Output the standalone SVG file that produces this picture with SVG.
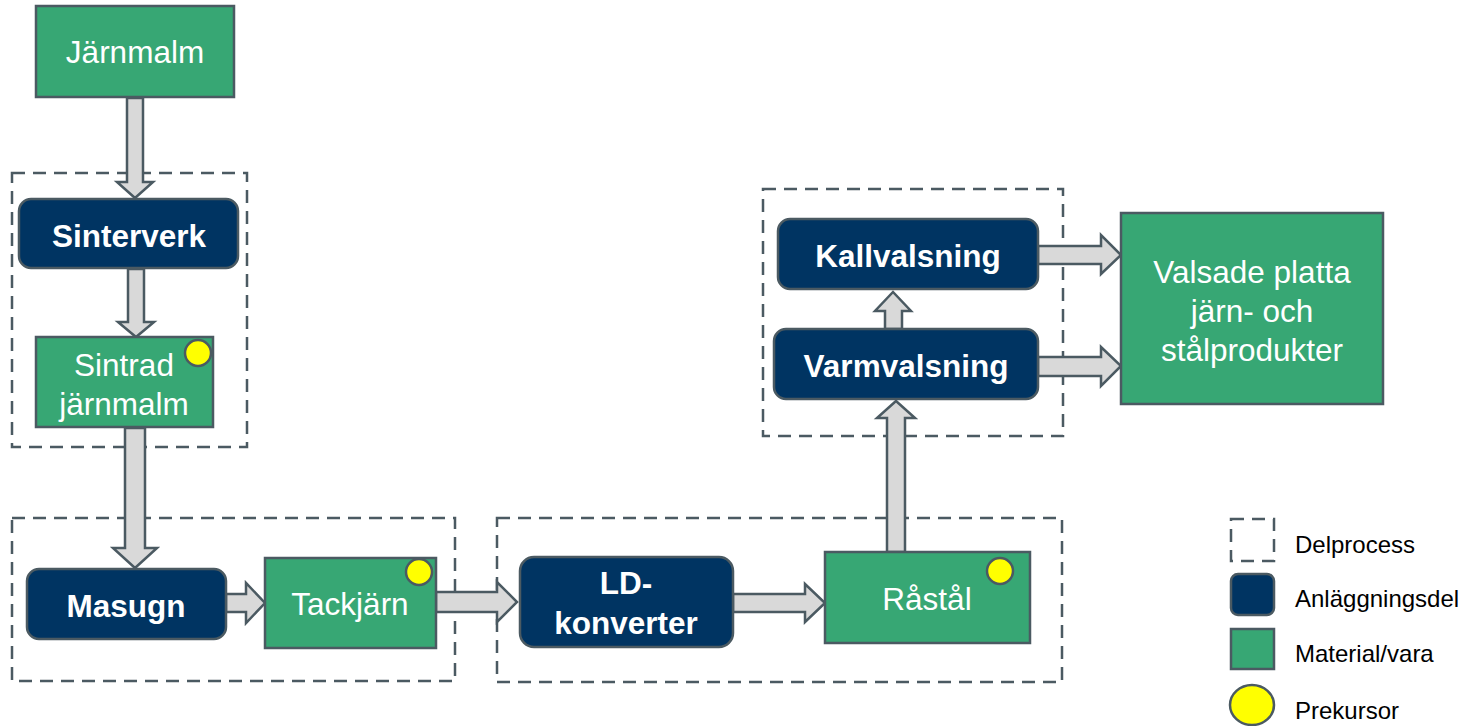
<svg xmlns="http://www.w3.org/2000/svg" width="1465" height="726" viewBox="0 0 1465 726">
<style>
.mat{fill:#37A774;stroke:#4B5A62;stroke-width:2.5}
.eq{fill:#003462;stroke:#4B5A62;stroke-width:2.5}
.sub{fill:none;stroke:#4B5A62;stroke-width:2.5;stroke-dasharray:13 8}
.pre{fill:#FFFF00;stroke:#4B5A62;stroke-width:2.5}
.arr{fill:#D9D9D9;stroke:#4B5A62;stroke-width:2.5;stroke-linejoin:miter}
.tn{font-family:"Liberation Sans",Arial,sans-serif;font-size:31.5px;fill:#fff;text-anchor:middle}
.tb{font-family:"Liberation Sans",Arial,sans-serif;font-size:31.5px;font-weight:bold;fill:#fff;text-anchor:middle}
.lg{font-family:"Liberation Sans",Arial,sans-serif;font-size:24px;fill:#000}
</style>
<rect width="1465" height="726" fill="#fff"/>
<g id="subprocesses">
<rect class="sub" x="12" y="173" width="235" height="274"/>
<rect class="sub" x="12" y="518" width="443" height="163"/>
<rect class="sub" x="497" y="518" width="565" height="164"/>
<rect class="sub" x="763" y="189" width="300" height="247"/>
</g>
<g id="connectors">
<polygon class="arr" points="127,98 143,98 143,182 153,182 135,198 117,182 127,182"/>
<polygon class="arr" points="128,269 144,269 144,322 154,322 136,337 118,322 128,322"/>
<polygon class="arr" points="125,428 145,428 145,548 157,548 135,568 113,548 125,548"/>
<polygon class="arr" points="226,594 246,594 246,583 265,603 246,623 246,612 226,612"/>
<polygon class="arr" points="436,592 497,592 497,582 517,602 497,622 497,612 436,612"/>
<polygon class="arr" points="733,594 805,594 805,584 825,603 805,622 805,612 733,612"/>
<polygon class="arr" points="887,552 887,418 877,418 896,401 915,418 905,418 905,552"/>
<polygon class="arr" points="885,329 885,311 875,311 893,292 911,311 902,311 902,329"/>
<polygon class="arr" points="1038,246 1101,246 1101,235 1121,255 1101,274 1101,264 1038,264"/>
<polygon class="arr" points="1038,357 1101,357 1101,347 1121,366 1101,386 1101,376 1038,376"/>
</g>
<g id="jarnmalm">
<rect class="mat" x="36" y="6" width="198" height="91"/>
<text class="tn" x="135" y="63">Järnmalm</text>
</g>
<g id="sinterverk">
<rect class="eq" x="19" y="199" width="219" height="69" rx="12"/>
<text class="tb" x="129" y="247">Sinterverk</text>
</g>
<g id="sintrad">
<rect class="mat" x="36" y="337" width="177" height="90"/>
<text class="tn" x="124" y="376">Sintrad</text>
<text class="tn" x="124" y="415">järnmalm</text>
<circle class="pre" cx="198" cy="353" r="13"/>
</g>
<g id="masugn">
<rect class="eq" x="27" y="569" width="199" height="70" rx="12"/>
<text class="tb" x="126" y="617">Masugn</text>
</g>
<g id="tackjarn">
<rect class="mat" x="265" y="558" width="171" height="90"/>
<text class="tn" x="350" y="615">Tackjärn</text>
<circle class="pre" cx="419" cy="572" r="13"/>
</g>
<g id="ldkonverter">
<rect class="eq" x="520" y="557" width="213" height="90" rx="14"/>
<text class="tb" x="626" y="594">LD-</text>
<text class="tb" x="626" y="634">konverter</text>
</g>
<g id="rastal">
<rect class="mat" x="825" y="552" width="205" height="91"/>
<text class="tn" x="927" y="610">Råstål</text>
<circle class="pre" cx="1000" cy="571" r="13"/>
</g>
<g id="varmvalsning">
<rect class="eq" x="774" y="329" width="264" height="70" rx="12"/>
<text class="tb" x="906" y="377">Varmvalsning</text>
</g>
<g id="kallvalsning">
<rect class="eq" x="778" y="219" width="260" height="70" rx="12"/>
<text class="tb" x="908" y="267">Kallvalsning</text>
</g>
<g id="valsade">
<rect class="mat" x="1121" y="213" width="262" height="191"/>
<text class="tn" x="1252" y="283">Valsade platta</text>
<text class="tn" x="1252" y="322">järn- och</text>
<text class="tn" x="1252" y="361">stålprodukter</text>
</g>
<g id="legend">
<rect class="sub" x="1231" y="519" width="43" height="42" stroke-dasharray="14 12"/>
<text class="lg" x="1295" y="553">Delprocess</text>
<rect class="eq" x="1231" y="574" width="43" height="41" rx="7"/>
<text class="lg" x="1295" y="607">Anläggningsdel</text>
<rect class="mat" x="1231" y="629" width="43" height="40"/>
<text class="lg" x="1295" y="662">Material/vara</text>
<ellipse class="pre" cx="1252" cy="705" rx="22" ry="20"/>
<text class="lg" x="1295" y="719">Prekursor</text>
</g>
</svg>
